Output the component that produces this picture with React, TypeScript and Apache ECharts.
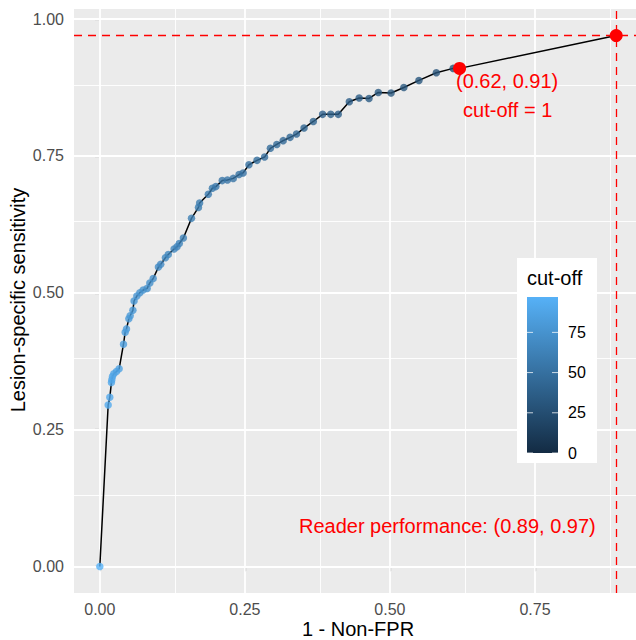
import React, { useEffect, useRef } from "react";
import * as echarts from "echarts";

// ROC points: 1 - Non-FPR (x), lesion-specific sensitivity (y), cut-off (colour)
const fpr = [
  0, 0.0144, 0.0172, 0.02, 0.0207, 0.0218, 0.0241, 0.0287, 0.0333, 0.0408,
  0.0437, 0.046, 0.05, 0.0523, 0.057, 0.059, 0.0638, 0.069, 0.0747, 0.0816,
  0.0862, 0.092, 0.101, 0.105, 0.113, 0.118, 0.128, 0.133, 0.137, 0.144,
  0.158, 0.17, 0.172, 0.187, 0.194, 0.2, 0.211, 0.22, 0.23, 0.24,
  0.247, 0.257, 0.271, 0.284, 0.294, 0.305, 0.316, 0.328, 0.339, 0.352,
  0.368, 0.384, 0.398, 0.411, 0.43, 0.447, 0.464, 0.48, 0.502, 0.524,
  0.55, 0.58, 0.609,
];
const sens = [
  0, 0.295, 0.309, 0.336, 0.341, 0.347, 0.352, 0.356, 0.361, 0.406,
  0.428, 0.434, 0.4525, 0.458, 0.468, 0.485, 0.494, 0.5, 0.505, 0.508,
  0.518, 0.526, 0.547, 0.552, 0.564, 0.57, 0.58, 0.584, 0.59, 0.6,
  0.636, 0.656, 0.664, 0.68, 0.691, 0.694, 0.705, 0.706, 0.709, 0.716,
  0.719, 0.734, 0.742, 0.748, 0.764, 0.771, 0.778, 0.784, 0.79, 0.801,
  0.813, 0.826, 0.826, 0.826, 0.849, 0.856, 0.855, 0.866, 0.865, 0.875,
  0.888, 0.902, 0.91,
];
const cutoff = [
  97, 92, 91, 90, 89, 89, 88, 87, 86, 84,
  83, 82, 81, 80, 79, 78, 77, 76, 75, 74,
  73, 72, 70, 69, 68, 67, 66, 65, 64, 63,
  61, 60, 59, 58, 57, 56, 55, 54, 53, 52,
  51, 50, 49, 48, 47, 46, 45, 44, 43, 42,
  41, 40, 39, 38, 37, 36, 35, 34, 33, 32,
  31, 30, 28,
];
const opPoint = [0.62, 0.91]; // cut-off = 1
const readerPoint = [0.89, 0.97];

const xTicks = [0, 0.25, 0.5, 0.75];
const xMinor = [0.125, 0.375, 0.625, 0.875];
const yTicks = [0, 0.25, 0.5, 0.75, 1];
const yMinor = [0.125, 0.375, 0.625, 0.875];
const legendTicks = [0, 25, 50, 75];
const cutoffRange = [0, 97];

const FONT = '"Liberation Sans", Arial, Helvetica, sans-serif';
const LOW = "#132B43";
const HIGH = "#56B1F7";

export default function App() {
  const ref = useRef<HTMLDivElement>(null);

  useEffect(() => {
    if (!ref.current) return;
    const chart = echarts.init(ref.current, null, { renderer: "svg" });

    const points = fpr.map((x, i) => [x, sens[i], cutoff[i]]);
    const curve = [...fpr.map((x, i) => [x, sens[i]]), opPoint, readerPoint];

    const gridLines = [
      ...xTicks.map((v) => ({ xAxis: v, lineStyle: { width: 1.8 } })),
      ...xMinor.map((v) => ({ xAxis: v, lineStyle: { width: 0.9 } })),
      ...yTicks.map((v) => ({ yAxis: v, lineStyle: { width: 1.8 } })),
      ...yMinor.map((v) => ({ yAxis: v, lineStyle: { width: 0.9 } })),
    ];

    // legend (colourbar) geometry
    const box = { x: 517, y: 258, w: 80, h: 205 };
    const bar = { x: 527, w: 31, top: 297, bottom: 453 };
    const valToY = (v: number) =>
      bar.bottom -
      ((v - cutoffRange[0]) / (cutoffRange[1] - cutoffRange[0])) *
        (bar.bottom - bar.top);
    const legendGraphics: any[] = [
      {
        type: "rect",
        shape: { x: box.x, y: box.y, width: box.w, height: box.h },
        style: { fill: "#FFFFFF" },
        z: 100,
      },
      {
        type: "text",
        x: bar.x,
        y: 278,
        style: {
          text: "cut-off",
          fill: "#000000",
          fontSize: 20,
          fontFamily: FONT,
          align: "left",
          verticalAlign: "middle",
        },
        z: 101,
      },
      {
        type: "rect",
        shape: { x: bar.x, y: bar.top, width: bar.w, height: bar.bottom - bar.top },
        style: {
          fill: new echarts.graphic.LinearGradient(0, 0, 0, 1, [
            { offset: 0, color: HIGH },
            { offset: 1, color: LOW },
          ]),
        },
        z: 101,
      },
    ];
    legendTicks.forEach((t) => {
      const y = valToY(t);
      legendGraphics.push(
        {
          type: "line",
          shape: { x1: bar.x, y1: y, x2: bar.x + 6, y2: y },
          style: { stroke: "rgba(255,255,255,0.75)", lineWidth: 1 },
          z: 102,
        },
        {
          type: "line",
          shape: { x1: bar.x + bar.w - 6, y1: y, x2: bar.x + bar.w, y2: y },
          style: { stroke: "rgba(255,255,255,0.75)", lineWidth: 1 },
          z: 102,
        },
        {
          type: "text",
          x: 568,
          y,
          style: {
            text: String(t),
            fill: "#000000",
            fontSize: 16,
            fontFamily: FONT,
            align: "left",
            verticalAlign: "middle",
          },
          z: 102,
        }
      );
    });

    const axisTitles = [
      {
        type: "text",
        x: 358,
        y: 629,
        style: {
          text: "1 - Non-FPR",
          fill: "#000000",
          fontSize: 20,
          fontFamily: FONT,
          align: "center",
          verticalAlign: "middle",
        },
      },
      {
        type: "text",
        x: 18,
        y: 300,
        rotation: Math.PI / 2,
        style: {
          text: "Lesion-specific sensitivity",
          fill: "#000000",
          fontSize: 20,
          fontFamily: FONT,
          align: "center",
          verticalAlign: "middle",
        },
      },
    ];

    chart.setOption({
      animation: false,
      textStyle: { fontFamily: FONT },
      grid: {
        left: 74,
        top: 9,
        width: 568,
        height: 584,
        show: true,
        backgroundColor: "#EBEBEB",
        borderWidth: 0,
      },
      xAxis: {
        type: "value",
        min: -0.0445,
        max: 0.9345,
        splitLine: { show: false },
        axisLine: { show: false },
        axisTick: {
          show: true,
          customValues: xTicks,
          length: 5,
          lineStyle: { color: "#333333", width: 1.1 },
        },
        axisLabel: {
          customValues: xTicks,
          formatter: (v: number) => v.toFixed(2),
          color: "#4D4D4D",
          fontSize: 16,
          fontFamily: FONT,
          margin: 8,
        },
      },
      yAxis: {
        type: "value",
        min: -0.0485,
        max: 1.0185,
        splitLine: { show: false },
        axisLine: { show: false },
        axisTick: {
          show: true,
          customValues: yTicks,
          length: 5,
          lineStyle: { color: "#333333", width: 1.1 },
        },
        axisLabel: {
          customValues: yTicks,
          formatter: (v: number) => v.toFixed(2),
          color: "#4D4D4D",
          fontSize: 16,
          fontFamily: FONT,
          margin: 10,
        },
      },
      visualMap: {
        type: "continuous",
        show: false,
        min: cutoffRange[0],
        max: cutoffRange[1],
        dimension: 2,
        seriesIndex: 2,
        inRange: { color: [LOW, HIGH] },
      },
      series: [
        {
          type: "line",
          data: [],
          z: 1,
          silent: true,
          markLine: {
            z: 1,
            silent: true,
            symbol: ["none", "none"],
            label: { show: false },
            emphasis: { disabled: true },
            lineStyle: { color: "#FFFFFF", type: "solid" },
            data: gridLines,
          },
        },
        {
          type: "line",
          data: curve,
          z: 2,
          showSymbol: false,
          symbol: "none",
          silent: true,
          lineStyle: { color: "#000000", width: 1.5 },
        },
        {
          type: "scatter",
          data: points,
          z: 3,
          symbolSize: 7.5,
          silent: true,
        },
        {
          type: "scatter",
          data: [opPoint, readerPoint],
          z: 4,
          symbolSize: 13,
          silent: true,
          itemStyle: { color: "#FF0000", opacity: 1 },
        },
        {
          type: "line",
          data: [],
          z: 5,
          silent: true,
          markLine: {
            z: 3.5,
            silent: true,
            symbol: ["none", "none"],
            label: { show: false },
            emphasis: { disabled: true },
            lineStyle: { color: "#FF0000", type: [8, 6], width: 1.3 },
            data: [{ xAxis: readerPoint[0] }, { yAxis: readerPoint[1] }],
          },
        },
      ],
      graphic: [...legendGraphics, ...axisTitles],
    });

    const toPx = (p: number[]) => chart.convertToPixel({ gridIndex: 0 }, p) as number[];
    const labels = [
      { at: [0.702, 0.887], text: `(${opPoint[0].toFixed(2)}, ${opPoint[1].toFixed(2)})` },
      { at: [0.703, 0.8334], text: "cut-off = 1" },
      {
        at: [0.599, 0.074],
        text: `Reader performance: (${readerPoint[0].toFixed(2)}, ${readerPoint[1].toFixed(2)})`,
      },
    ];
    const annot = labels.map((l) => {
      const [px, py] = toPx(l.at);
      return {
        type: "text",
        x: px,
        y: py,
        z: 50,
        style: {
          text: l.text,
          fill: "#FF0000",
          fontSize: 20,
          fontFamily: FONT,
          align: "center",
          verticalAlign: "middle",
        },
      };
    });
    chart.setOption({ graphic: [...legendGraphics, ...axisTitles, ...annot] });

    return () => chart.dispose();
  }, []);

  return (
    <div
      style={{
        position: "fixed",
        left: 0,
        top: 0,
        width: 636,
        height: 640,
        overflow: "hidden",
        background: "#FFFFFF",
      }}
    >
      <div ref={ref} style={{ width: 650, height: 640 }} />
    </div>
  );
}
